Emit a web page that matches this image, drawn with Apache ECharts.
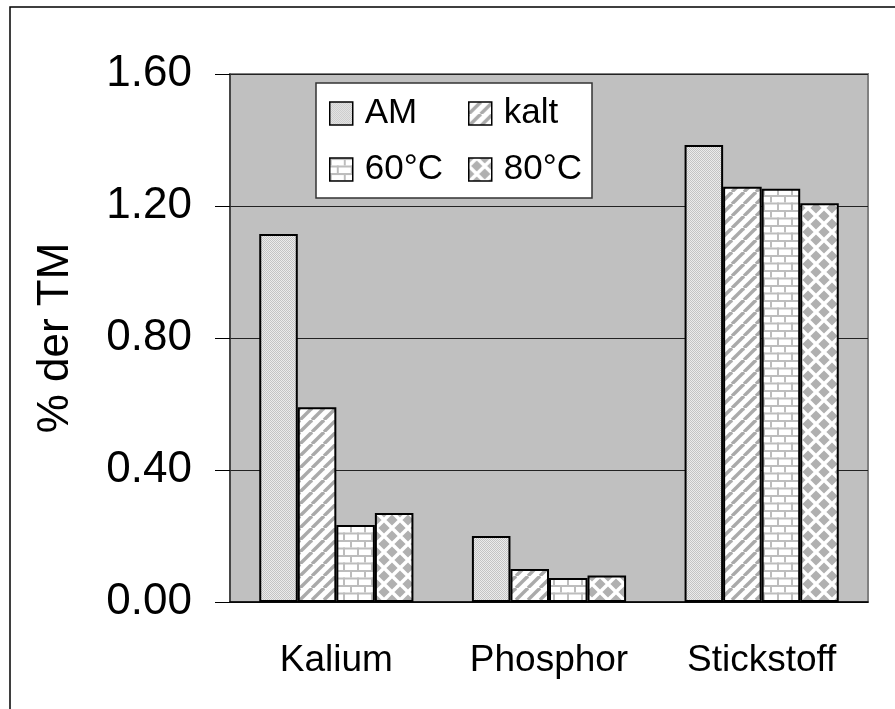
<!DOCTYPE html>
<html><head><meta charset="utf-8">
<script src="https://cdn.jsdelivr.net/npm/echarts@6/dist/echarts.min.js"></script>
<style>html,body{margin:0;padding:0;background:#fff}#c{width:895px;height:709px}</style>
</head><body><div id="c"></div>
<script>
const categories = ['Kalium', 'Phosphor', 'Stickstoff'];
const seriesNames = ['AM', 'kalt', '60°C', '80°C'];
const amValues = [1.115, 0.20, 1.385];
const kaltValues = [0.59, 0.10, 1.258];
const c60Values = [0.233, 0.073, 1.252];
const c80Values = [0.27, 0.08, 1.208];
const yTicks = { min: 0, max: 1.6, interval: 0.4 };

function mk(w, h, draw) { const c = document.createElement('canvas'); c.width = w; c.height = h; const g = c.getContext('2d'); draw(g, w, h); return c; }
const patAM = mk(2, 2, (g) => { g.fillStyle = '#ececec'; g.fillRect(0,0,2,2); g.fillStyle = '#c4c4c4'; g.fillRect(0,0,1,1); g.fillRect(1,1,1,1); });
const patKalt = mk(12, 12, (g, w, h) => { g.fillStyle = '#fff'; g.fillRect(0,0,w,h); g.strokeStyle = '#aaaaaa'; g.lineWidth = 3.4;
  for (const k of [-12, 0, 12]) { g.beginPath(); g.moveTo(k, h); g.lineTo(k + w, 0); g.stroke(); } });
const patBrick = mk(14, 15, (g, w, h) => { g.fillStyle = '#fff'; g.fillRect(0,0,w,h); g.fillStyle = '#bdbdbd';
  g.fillRect(0, 0, w, 2); g.fillRect(0, 7.5, w, 2); g.fillRect(0, 0, 2, 7.5); g.fillRect(7, 7.5, 2, 7.5); });
const patDiamond = mk(16, 16, (g, w, h) => { g.fillStyle = '#fff'; g.fillRect(0,0,w,h); g.fillStyle = '#b0b0b0';
  const d = 5.6;
  for (const [cx, cy] of [[0,0],[16,0],[0,16],[16,16],[8,8]]) {
    g.beginPath(); g.moveTo(cx, cy - d); g.lineTo(cx + d, cy); g.lineTo(cx, cy + d); g.lineTo(cx - d, cy); g.closePath(); g.fill();
  } });
const patterns = [patAM, patKalt, patBrick, patDiamond];
const allValues = [amValues, kaltValues, c60Values, c80Values];

const FONT = 'Liberation Sans, Arial, sans-serif';
const chart = echarts.init(document.getElementById('c'), null, { renderer: 'canvas' });

const legendPos = [[329, 96], [468, 96], [329, 152], [468, 152]];
const legends = seriesNames.map((n, i) => ({
  data: [n], left: legendPos[i][0], top: legendPos[i][1], padding: 0, itemWidth: 23, itemHeight: 23,
  icon: 'rect', selectedMode: false, z: 6,
  itemStyle: { borderColor: '#000', borderWidth: 1.5 },
  textStyle: { fontFamily: FONT, fontSize: 35, color: '#000', padding: [0, 0, 0, 7] }
}));

chart.setOption({
  backgroundColor: '#fff',
  animation: false,
  legend: legends,
  graphic: [
    { type: 'rect', shape: { x: 10, y: 7, width: 900, height: 720 }, style: { fill: 'none', stroke: '#000', lineWidth: 1.5 }, z: 0 },
    { type: 'rect', shape: { x: 316, y: 83, width: 276, height: 115 }, style: { fill: '#fff', stroke: '#333', lineWidth: 1.5 }, z: 5 }
  ],
  grid: { left: 230, top: 74, right: 27, bottom: 107, show: true, backgroundColor: '#c0c0c0', borderColor: '#808080', borderWidth: 2 },
  xAxis: {
    type: 'category', data: categories,
    axisLine: { lineStyle: { color: '#000', width: 1.5 } },
    axisTick: { length: 12, lineStyle: { color: '#000', width: 1 } },
    axisLabel: { fontFamily: FONT, fontSize: 37, color: '#000', margin: 40 }
  },
  yAxis: {
    type: 'value', min: yTicks.min, max: yTicks.max, interval: yTicks.interval,
    name: '% der TM', nameLocation: 'middle', nameGap: 152, nameRotate: 90,
    nameTextStyle: { fontFamily: FONT, fontSize: 44, color: '#000' },
    axisLine: { show: true, lineStyle: { color: '#333', width: 1.5 } },
    axisTick: { show: true, length: 15, lineStyle: { color: '#000', width: 1 } },
    axisLabel: { fontFamily: FONT, fontSize: 44, color: '#000', margin: 38, formatter: v => v.toFixed(2) },
    splitLine: { lineStyle: { color: '#222', width: 1 } }
  },
  series: seriesNames.map((n, i) => ({
    type: 'bar', name: n, data: allValues[i], barGap: '0%', barCategoryGap: '27.5%',
    itemStyle: { color: { image: patterns[i], repeat: 'repeat' }, borderColor: '#000', borderWidth: 2 }
  }))
});
</script></body></html>
